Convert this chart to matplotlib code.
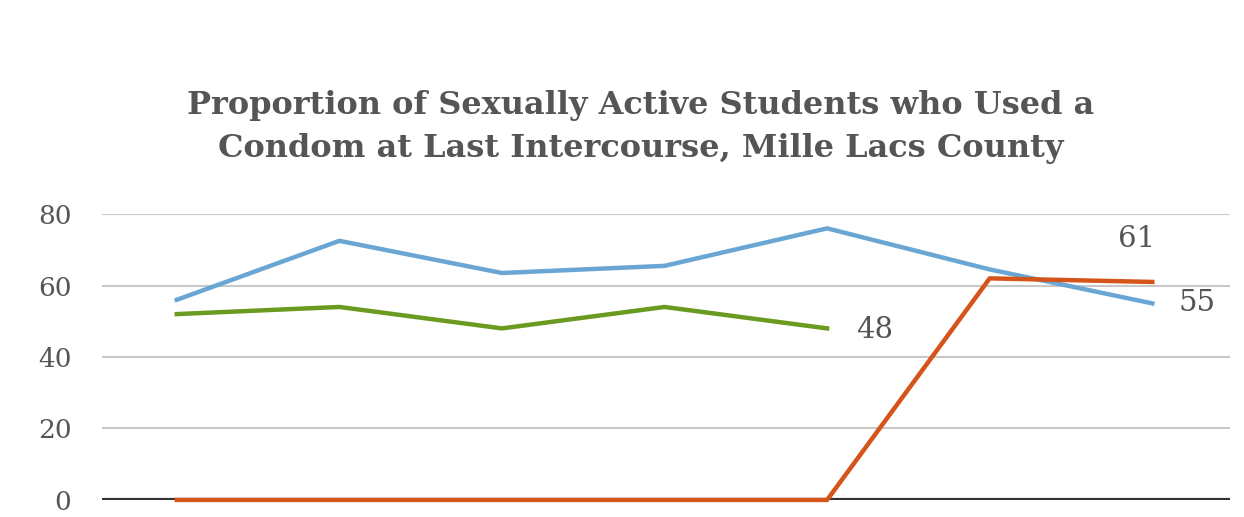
import matplotlib.pyplot as plt

# survey years (not labelled on the chart)
years = [1, 2, 3, 4, 5, 6, 7]
blueValues = [56, 72.5, 63.5, 65.5, 76, 64.5, 55]
greenValues = [52, 54, 48, 54, 48]
orangeValues = [0, 0, 0, 0, 0, 62, 61]
yTicks = [0, 20, 40, 60, 80]

textColor = "#555555"

fig = plt.figure(figsize=(12.44, 5.17), dpi=100)
ax = fig.add_axes([0.082, 0.033, 0.907, 0.553])

ax.plot(years, blueValues, color="#6aa6d4", linewidth=3.2, clip_on=False, zorder=3)
ax.plot(years[:len(greenValues)], greenValues, color="#6a9a1f", linewidth=3.2, clip_on=False, zorder=3)
ax.axhline(0, color="#333333", linewidth=3, zorder=2)
ax.plot(years, orangeValues, color="#d4541a", linewidth=3.2, clip_on=False, zorder=4)

ax.text(years[4] + 0.18, greenValues[-1] - 0.5, "48", fontsize=21, color=textColor,
        family="DejaVu Serif", va="center", ha="left")
ax.text(years[6] - 0.21, 73, "61", fontsize=21, color=textColor,
        family="DejaVu Serif", va="center", ha="left")
ax.text(years[6] + 0.16, blueValues[-1], "55", fontsize=21, color=textColor,
        family="DejaVu Serif", va="center", ha="left")

ax.set_xlim(0.54, 7.48)
ax.set_ylim(0, 80)
ax.set_yticks(yTicks)
ax.set_yticklabels([str(t) for t in yTicks], fontsize=19, color=textColor, family="DejaVu Serif")
ax.set_xticks([])
ax.tick_params(axis="y", length=0, pad=22)
ax.grid(axis="y", color="#c8c8c8", linewidth=1.5)
ax.set_axisbelow(True)
for s in ax.spines.values():
    s.set_visible(False)

fig.text(0.515, 0.755, "Proportion of Sexually Active Students who Used a\nCondom at Last Intercourse, Mille Lacs County",
         ha="center", va="center", fontsize=23, fontweight="bold", color=textColor,
         family="DejaVu Serif", linespacing=1.5)

plt.savefig("out.png", dpi=100)
